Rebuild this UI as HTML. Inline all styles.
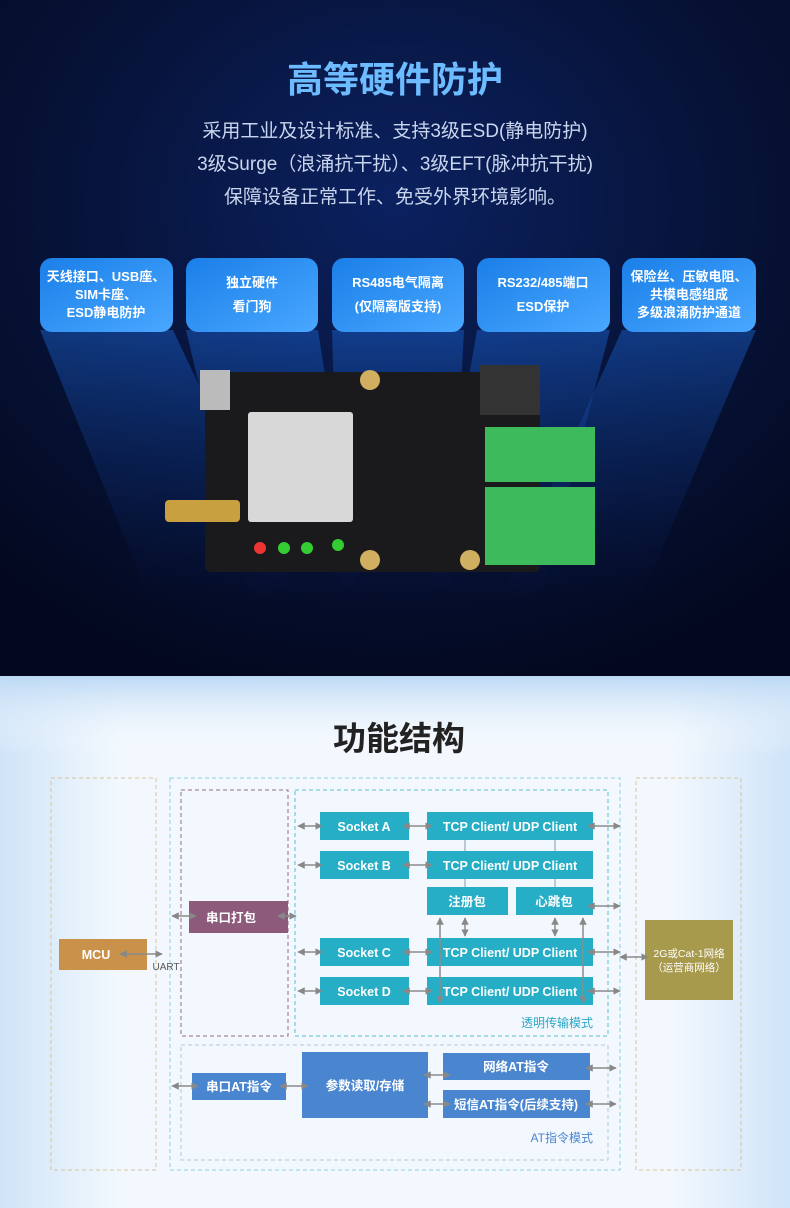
<!DOCTYPE html>
<html><head><meta charset="utf-8"><style>
html,body{margin:0;padding:0;width:790px;height:1208px;overflow:hidden;background:#fff}
svg{display:block}
text{font-family:"Liberation Sans","Noto Sans CJK SC",sans-serif}
</style></head><body>
<svg width="790" height="1208" viewBox="0 0 790 1208" xmlns="http://www.w3.org/2000/svg">
<defs>
<radialGradient id="bgtop" cx="0.5" cy="0.3" r="0.75">
<stop offset="0" stop-color="#0b2160"/><stop offset="0.5" stop-color="#07143c"/><stop offset="1" stop-color="#03081e"/></radialGradient>
<linearGradient id="btn" x1="0" y1="0" x2="1" y2="1"><stop offset="0" stop-color="#1a7fe8"/><stop offset="1" stop-color="#49a7ff"/></linearGradient>
<linearGradient id="beam" x1="0" y1="0" x2="0" y2="1"><stop offset="0" stop-color="#1a5fc8" stop-opacity="0.5"/><stop offset="1" stop-color="#0a2a70" stop-opacity="0"/></linearGradient>
<linearGradient id="bgb" x1="0" y1="0" x2="1" y2="0"><stop offset="0" stop-color="#cfe4f8"/><stop offset="0.15" stop-color="#f2f8fe"/><stop offset="0.85" stop-color="#f2f8fe"/><stop offset="1" stop-color="#cfe4f8"/></linearGradient>
<linearGradient id="bgbv" x1="0" y1="0" x2="0" y2="1"><stop offset="0" stop-color="#bcd9f5"/><stop offset="0.15" stop-color="#ffffff" stop-opacity="0"/><stop offset="1" stop-color="#ffffff" stop-opacity="0"/></linearGradient>
<marker id="ar" viewBox="0 0 10 10" refX="9" refY="5" markerWidth="5" markerHeight="5" orient="auto-start-reverse"><path d="M0,0 L10,5 L0,10 z" fill="#888"/></marker>
</defs>
<rect x="0" y="0" width="790" height="676" fill="url(#bgtop)"/>
<polygon points="40,330 173,330 300,600 150,600" fill="url(#beam)"/>
<polygon points="186,330 318,330 360,600 250,600" fill="url(#beam)"/>
<polygon points="332,330 464,330 450,600 340,600" fill="url(#beam)"/>
<polygon points="477,330 610,330 540,600 430,600" fill="url(#beam)"/>
<polygon points="622,330 756,330 640,600 500,600" fill="url(#beam)"/>
<text x="395" y="92" text-anchor="middle" font-size="36" font-weight="bold" fill="#6cbcff">高等硬件防护</text>
<text x="395" y="137" text-anchor="middle" font-size="19" fill="#c9d6ee">采用工业及设计标准、支持3级ESD(静电防护)</text>
<text x="395" y="170" text-anchor="middle" font-size="19" fill="#c9d6ee">3级Surge（浪涌抗干扰）、3级EFT(脉冲抗干扰)</text>
<text x="395" y="203" text-anchor="middle" font-size="19" fill="#c9d6ee">保障设备正常工作、免受外界环境影响。</text>
<g font-size="13" fill="#fff" text-anchor="middle" font-weight="bold">
<rect x="40" y="258" width="133" height="74" rx="12" fill="url(#btn)"/>
<text x="106" y="281">天线接口、USB座、</text><text x="106" y="299">SIM卡座、</text><text x="106" y="317">ESD静电防护</text>
<rect x="186" y="258" width="132" height="74" rx="12" fill="url(#btn)"/>
<text x="252" y="287">独立硬件</text><text x="252" y="311">看门狗</text>
<rect x="332" y="258" width="132" height="74" rx="12" fill="url(#btn)"/>
<text x="398" y="287">RS485电气隔离</text><text x="398" y="311">(仅隔离版支持)</text>
<rect x="477" y="258" width="133" height="74" rx="12" fill="url(#btn)"/>
<text x="543" y="287">RS232/485端口</text><text x="543" y="311">ESD保护</text>
<rect x="622" y="258" width="134" height="74" rx="12" fill="url(#btn)"/>
<text x="689" y="281">保险丝、压敏电阻、</text><text x="689" y="299">共模电感组成</text><text x="689" y="317">多级浪涌防护通道</text>
</g>
<rect x="205" y="372" width="335" height="200" rx="6" fill="#1a1a1c"/>
<rect x="200" y="370" width="30" height="40" fill="#bbb"/>
<rect x="248" y="412" width="105" height="110" rx="3" fill="#d8d8d8"/>
<rect x="480" y="365" width="60" height="50" fill="#333"/>
<rect x="485" y="427" width="110" height="55" fill="#3cba5c"/>
<rect x="485" y="487" width="110" height="78" fill="#3cba5c"/>
<circle cx="370" cy="380" r="10" fill="#d0b060"/><circle cx="370" cy="560" r="10" fill="#d0b060"/><circle cx="470" cy="560" r="10" fill="#d0b060"/>
<rect x="165" y="500" width="75" height="22" rx="4" fill="#c9a040"/>
<circle cx="260" cy="548" r="6" fill="#e33"/><circle cx="284" cy="548" r="6" fill="#3c3"/><circle cx="307" cy="548" r="6" fill="#3c3"/><circle cx="338" cy="545" r="6" fill="#3c3"/>
<rect x="0" y="676" width="790" height="532" fill="url(#bgb)"/>
<rect x="0" y="676" width="790" height="532" fill="url(#bgbv)"/>
<text x="399" y="750" text-anchor="middle" font-size="33" font-weight="bold" fill="#222">功能结构</text>
<g fill="none" stroke-dasharray="4,3" stroke-width="1">
<rect x="51" y="778" width="105" height="392" stroke="#d9c49a"/>
<rect x="170" y="778" width="450" height="392" stroke="#8fd0dc"/>
<rect x="636" y="778" width="105" height="392" stroke="#d9c49a"/>
<rect x="181" y="790" width="107" height="246" stroke="#9a6a85"/>
<rect x="295" y="790" width="313" height="246" stroke="#5cc0d0"/>
<rect x="181" y="1045" width="427" height="115" stroke="#b0c8d8"/>
</g>
<g fill="#26aec6">
<rect x="320" y="812" width="89" height="28"/><rect x="427" y="812" width="166" height="28"/>
<rect x="320" y="851" width="89" height="28"/><rect x="427" y="851" width="166" height="28"/>
<rect x="427" y="887" width="81" height="28"/><rect x="516" y="887" width="77" height="28"/>
<rect x="320" y="938" width="89" height="28"/><rect x="427" y="938" width="166" height="28"/>
<rect x="320" y="977" width="89" height="28"/><rect x="427" y="977" width="166" height="28"/>
</g>
<rect x="59" y="939" width="88" height="31" fill="#c9914a"/>
<rect x="189" y="901" width="99" height="32" fill="#8e5a7b"/>
<g fill="#4a86d0">
<rect x="192" y="1073" width="94" height="27"/><rect x="302" y="1052" width="126" height="66"/>
<rect x="443" y="1053" width="147" height="27"/><rect x="443" y="1090" width="147" height="28"/>
</g>
<rect x="645" y="920" width="88" height="80" fill="#a89a4c"/>
<g stroke="#8a8a8a" stroke-width="1.5" fill="none" marker-start="url(#ar)" marker-end="url(#ar)">
<line x1="120" y1="954" x2="162" y2="954"/>
<line x1="172" y1="916" x2="196" y2="916"/>
<line x1="278" y1="916" x2="296" y2="916"/>
<line x1="298" y1="826" x2="322" y2="826"/><line x1="403" y1="826" x2="432" y2="826"/><line x1="588" y1="826" x2="620" y2="826"/>
<line x1="298" y1="865" x2="322" y2="865"/><line x1="403" y1="865" x2="432" y2="865"/>
<line x1="298" y1="952" x2="322" y2="952"/><line x1="403" y1="952" x2="432" y2="952"/><line x1="588" y1="952" x2="620" y2="952"/>
<line x1="298" y1="991" x2="322" y2="991"/><line x1="403" y1="991" x2="432" y2="991"/><line x1="588" y1="991" x2="620" y2="991"/>
<line x1="588" y1="906" x2="620" y2="906"/>
<line x1="465" y1="918" x2="465" y2="936"/><line x1="555" y1="918" x2="555" y2="936"/>
<line x1="440" y1="918" x2="440" y2="1003"/><line x1="583" y1="918" x2="583" y2="1003"/>
<line x1="172" y1="1086" x2="198" y2="1086"/><line x1="280" y1="1086" x2="308" y2="1086"/>
<line x1="424" y1="1075" x2="450" y2="1075"/><line x1="424" y1="1104" x2="450" y2="1104"/>
<line x1="586" y1="1068" x2="616" y2="1068"/><line x1="586" y1="1104" x2="616" y2="1104"/>
<line x1="620" y1="957" x2="648" y2="957"/>
</g>
<g stroke="#9ab" stroke-width="1.2"><line x1="465" y1="840" x2="465" y2="851"/><line x1="555" y1="840" x2="555" y2="851"/><line x1="465" y1="879" x2="465" y2="887"/><line x1="555" y1="879" x2="555" y2="887"/></g>
<g font-size="12.5" font-weight="bold" fill="#fff" text-anchor="middle">
<text x="96" y="959">MCU</text>
<text x="231" y="922">串口打包</text>
<text x="364" y="831">Socket A</text><text x="510" y="831">TCP Client/ UDP Client</text>
<text x="364" y="870">Socket B</text><text x="510" y="870">TCP Client/ UDP Client</text>
<text x="467" y="906">注册包</text><text x="554" y="906">心跳包</text>
<text x="364" y="957">Socket C</text><text x="510" y="957">TCP Client/ UDP Client</text>
<text x="364" y="996">Socket D</text><text x="510" y="996">TCP Client/ UDP Client</text>
<text x="239" y="1091">串口AT指令</text><text x="365" y="1090">参数读取/存储</text>
<text x="516" y="1071">网络AT指令</text><text x="516" y="1109">短信AT指令(后续支持)</text>
</g>
<text x="689" y="957" text-anchor="middle" font-size="10.5" fill="#fff">2G或Cat-1网络</text>
<text x="689" y="971" text-anchor="middle" font-size="10.5" fill="#fff">（运营商网络）</text>
<text x="166" y="970" text-anchor="middle" font-size="10" fill="#555">UART</text>
<text x="593" y="1027" text-anchor="end" font-size="12" fill="#2aa7c4">透明传输模式</text>
<text x="593" y="1142" text-anchor="end" font-size="12" fill="#4a86d0">AT指令模式</text>
</svg>
</body></html>
